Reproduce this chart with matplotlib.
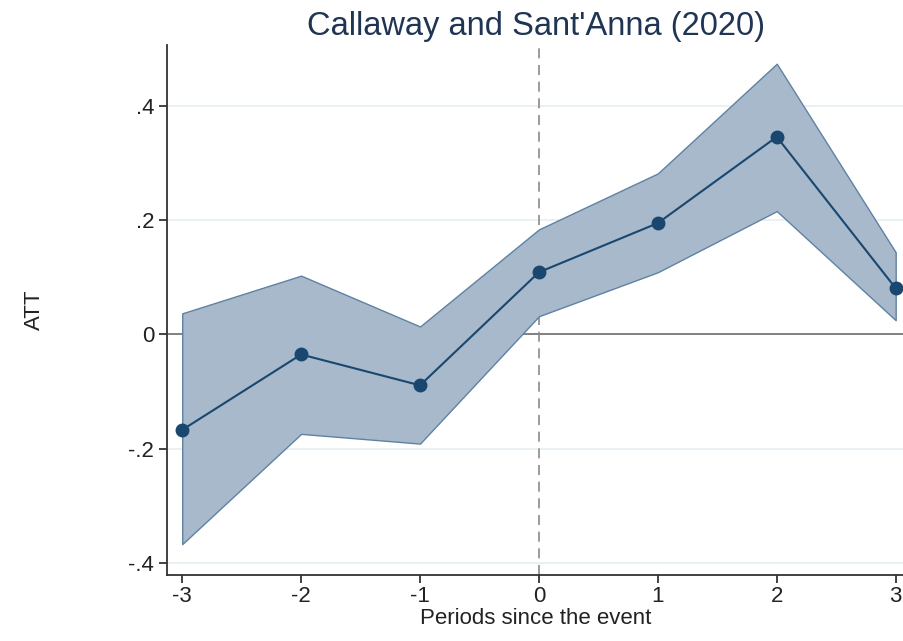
import numpy as np
import matplotlib
matplotlib.use('Agg')
import matplotlib.pyplot as plt

# event-study estimates
periods = [-3, -2, -1, 0, 1, 2, 3]
att = [-0.167, -0.035, -0.089, 0.109, 0.195, 0.346, 0.081]
ci_low = [-0.367, -0.174, -0.191, 0.032, 0.109, 0.216, 0.025]
ci_high = [0.037, 0.103, 0.014, 0.184, 0.282, 0.474, 0.144]
yticks = [-0.4, -0.2, 0, 0.2, 0.4]
ytick_labels = ['-.4', '-.2', '0', '.2', '.4']

plt.rcParams['font.family'] = ['Liberation Sans', 'DejaVu Sans']

navy = '#1a476f'

fig = plt.figure(figsize=(9.04, 6.41), dpi=100)
ax = fig.add_axes([0.185, 0.103, 0.815, 0.827])

for t in yticks:
    if t != 0:
        ax.axhline(t, color='#e6eff2', lw=1.2, zorder=0)
ax.axhline(0, color='#6b6b6b', lw=1.2, zorder=1)
ax.axvline(0, color='#8a8a8a', lw=1.2, ls=(0, (6, 4)), zorder=1)

ax.fill_between(periods, ci_low, ci_high, facecolor='#a7b9cb', edgecolor='#5f82a3',
                lw=1.0, zorder=2)
ax.plot(periods, att, color=navy, lw=1.5, marker='o', ms=9, zorder=3, clip_on=False)

ax.set_xlim(-3.126, 3.07)
ax.set_ylim(-0.421, 0.507)
ax.set_xticks(periods)
ax.set_xticklabels([str(p) for p in periods])
ax.set_yticks(yticks)
ax.set_yticklabels(ytick_labels)
ax.tick_params(axis='both', labelsize=16, length=6, width=1.2, colors='#222222', direction='out')
ax.tick_params(axis='x', pad=2)
for s in ['top', 'right']:
    ax.spines[s].set_visible(False)
for s in ['left', 'bottom']:
    ax.spines[s].set_linewidth(1.3)
    ax.spines[s].set_color('#333333')

ax.set_xlabel('Periods since the event', fontsize=16, color='#222222', labelpad=1)
ax.set_ylabel('ATT', fontsize=16, color='#222222', labelpad=60)
ax.set_title("Callaway and Sant'Anna (2020)", fontsize=23.5, color='#1f3554', pad=7)

fig.savefig('out.png', dpi=100)
